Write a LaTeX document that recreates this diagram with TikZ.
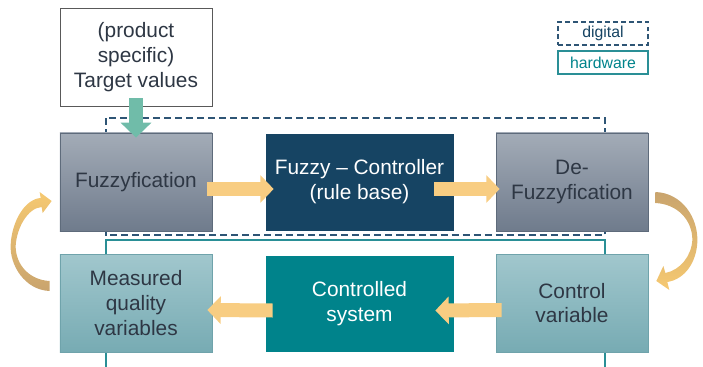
\documentclass[tikz,border=0pt]{standalone}
\usepackage{fontspec}
\setmainfont{Liberation Sans}
\usetikzlibrary{arrows.meta,calc}
\definecolor{FuzzNavy}{HTML}{164463}
\definecolor{FuzzNavyLine}{HTML}{2E5575}
\definecolor{FuzzTeal}{HTML}{00838B}
\definecolor{FuzzTealLine}{HTML}{2A8F96}
\definecolor{FuzzGreyTop}{HTML}{A3ACB7}
\definecolor{FuzzGreyBottom}{HTML}{6F7B8C}
\definecolor{FuzzGreyLine}{HTML}{5E6B7B}
\definecolor{FuzzAquaTop}{HTML}{A1C7CD}
\definecolor{FuzzAquaBottom}{HTML}{77ABB3}
\definecolor{FuzzAquaLine}{HTML}{6FA3AB}
\definecolor{FuzzInk}{HTML}{2E3744}
\definecolor{FuzzYellow}{HTML}{F8CD82}
\definecolor{FuzzGold}{HTML}{F6C971}
\definecolor{FuzzTan}{HTML}{C9A46E}
\definecolor{FuzzMint}{HTML}{70BCA9}

\begin{document}
\begin{tikzpicture}[
  x=0.03cm, y=-0.03cm,
  font=\fontsize{17.8}{21.2}\selectfont,
  box/.style={minimum width=4.56cm, minimum height=2.94cm, align=center,
    inner sep=2pt, line width=0.6pt},
  wide/.style={box, minimum width=5.67cm},
  greybox/.style={box, draw=FuzzGreyLine, top color=FuzzGreyTop,
    bottom color=FuzzGreyBottom, text=FuzzInk},
  aquabox/.style={box, draw=FuzzAquaLine, top color=FuzzAquaTop,
    bottom color=FuzzAquaBottom, text=FuzzInk},
  legend/.style={minimum width=2.7cm, minimum height=0.69cm, inner sep=1pt,
    font=\fontsize{13.5}{15}\selectfont},
  digitalframe/.style={draw=FuzzNavyLine, line width=1.1pt, dash pattern=on 6pt off 3.4pt},
  hardwareframe/.style={draw=FuzzTealLine, line width=1.2pt},
  fatarrow/.style={-{Triangle[length=0.4cm, width=0.81cm]}, line width=0.42cm,
    draw=FuzzYellow},
  inarrow/.style={-{Triangle[length=0.45cm, width=0.9cm]}, line width=0.42cm,
    draw=FuzzMint}
]
\useasboundingbox (0,0) rectangle (703,367);

% digital / hardware frames behind the blocks
\draw[digitalframe] (106,118) rectangle (605,235);
\draw[hardwareframe] (106,367) |- (605,240) -- (605,367);

% legend
\node[legend, draw=FuzzNavyLine, line width=1.1pt, dash pattern=on 4.2pt off 2.6pt,
  text=FuzzNavy] (digital) at (603,33.5) {digital};
\node[legend, draw=FuzzTealLine, line width=1.2pt, text=FuzzTeal] (hardware) at (603,62.5) {hardware};

% blocks
\node[box, draw=black!65, fill=white, text=FuzzInk] (target) at (136,57)
  {(product\\specific)\\Target values};
\node[greybox] (fuzz) at (136,182) {\raisebox{-2pt}{Fuzzyfication}};
\node[wide, fill=FuzzNavy, draw=white, text=white] (ctrl) at (359.5,182)
  {Fuzzy -- Controller\\(rule base)};
\node[greybox] (defuzz) at (572,182) {De-\\Fuzzyfication};
\node[aquabox] (measured) at (136,303) {Measured\\quality\\variables};
\node[wide, fill=FuzzTeal, draw=white, text=white, minimum height=2.91cm] (plant) at (359.5,303.5)
  {Controlled\\system};
\node[aquabox] (ctrlvar) at (572,303) {Control\\variable};

% flow arrows
\draw[inarrow] ($(target.south)+(0,-8)$) -- ($(fuzz.north)+(0,5)$);
\draw[fatarrow] ($(fuzz.east)+(-5,7)$) -- ($(ctrl.west)+(9,7)$);
\draw[fatarrow] ($(ctrl.east)+(-20,7)$) -- ($(defuzz.west)+(4,7)$);
\draw[fatarrow] ($(ctrlvar.west)+(6,7)$) -- ($(plant.east)+(-19,7)$);
\draw[fatarrow] ($(plant.west)+(8,7)$) -- ($(measured.east)+(-5,7)$);

% bent arrows closing the loop
\shade[top color=FuzzGold, bottom color=FuzzTan, shift={(measured.west)}]
  (-10,-12) .. controls (-35,-13) and (-50,-38) .. (-49,-58)
  .. controls (-48,-81) and (-35,-104) .. (-19,-105)
  -- (-20,-111) -- (-8,-102) -- (-17,-90) -- (-18,-96)
  .. controls (-32,-95) and (-43,-75) .. (-44,-57)
  .. controls (-44,-38) and (-30,-23) .. (-10,-22) -- cycle;
\shade[top color=FuzzTan, bottom color=FuzzGold, shift={(defuzz.east)}]
  (7,10) .. controls (34,11) and (50,36) .. (49,60)
  .. controls (48,80) and (37,97) .. (19,100)
  -- (21,108) -- (8,99) -- (15,84) -- (17,91)
  .. controls (32,88) and (43,74) .. (44,58)
  .. controls (44,38) and (29,22) .. (7,21) -- cycle;
\end{tikzpicture}
\end{document}
